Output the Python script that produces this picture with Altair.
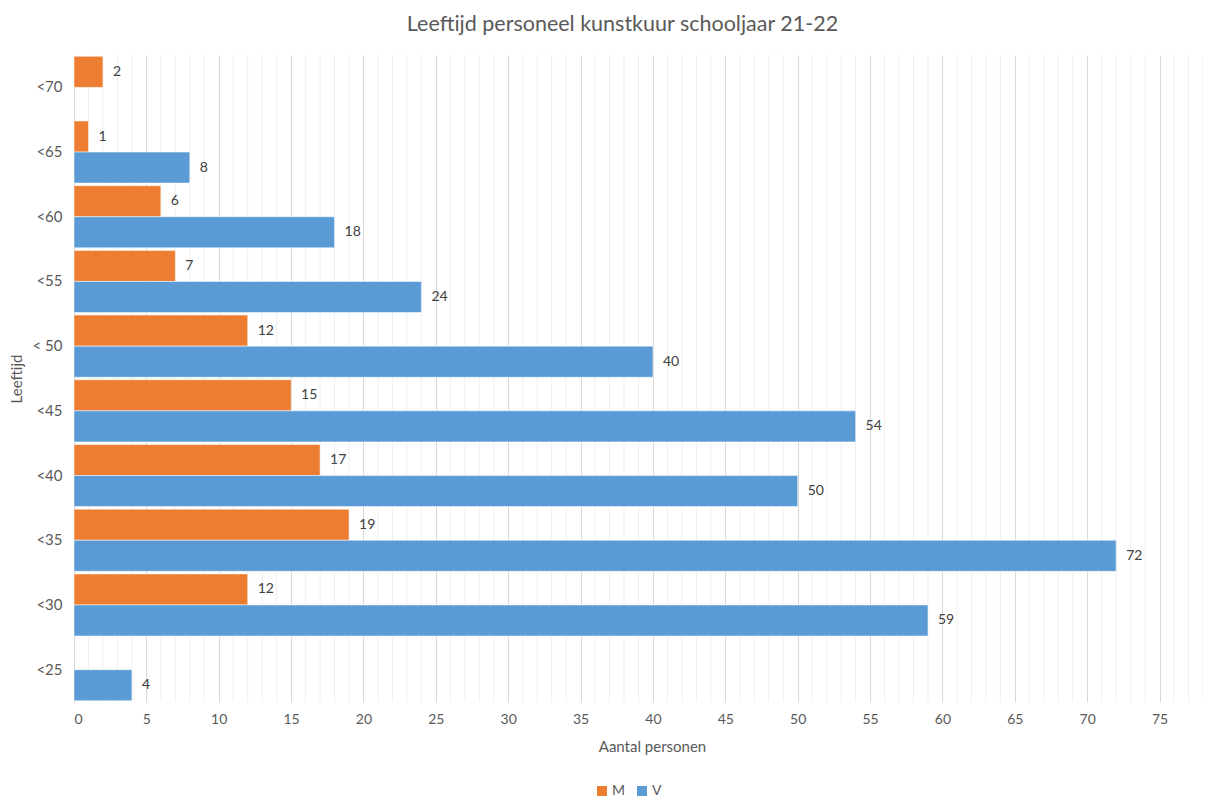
import altair as alt
import pandas as pd

categories = ["<70", "<65", "<60", "<55", "< 50", "<45", "<40", "<35", "<30", "<25"]
m_cats = ["<70", "<65", "<60", "<55", "< 50", "<45", "<40", "<35", "<30"]
m_vals = [2, 1, 6, 7, 12, 15, 17, 19, 12]
v_cats = ["<65", "<60", "<55", "< 50", "<45", "<40", "<35", "<30", "<25"]
v_vals = [8, 18, 24, 40, 54, 50, 72, 59, 4]
series = ["M", "V"]
colors = ["#ED7D31", "#5B9BD5"]
major_ticks = list(range(0, 80, 5))
minor_ticks = [v for v in range(0, 79) if v % 5 != 0]

rows = [{"cat": c, "serie": "M", "val": v} for c, v in zip(m_cats, m_vals)]
rows += [{"cat": c, "serie": "V", "val": v} for c, v in zip(v_cats, v_vals)]
df = pd.DataFrame(rows)
minor_df = pd.DataFrame({"tick": minor_ticks})

FONT = "Lato"
TXT = "#595959"

xscale = alt.Scale(domain=[0, 78], nice=False)
xaxis = alt.Axis(values=major_ticks, title="Aantal personen",
                 domain=False, ticks=False, labelPadding=10,
                 labelOverlap=False,
                 labelFontSize=14, labelColor=TXT, labelFont=FONT,
                 titleFont=FONT, titleFontSize=15, titleColor=TXT,
                 titleFontWeight="normal", titlePadding=13,
                 titleX=578,
                 gridColor="#d9d9d9", gridWidth=1)

minor = alt.Chart(minor_df).mark_rule(color="#efefef", strokeWidth=1).encode(
    x=alt.X("tick:Q", scale=xscale, axis=xaxis)
)

base = alt.Chart(df).encode(
    y=alt.Y("cat:N", sort=categories,
            scale=alt.Scale(paddingInner=0.04, paddingOuter=0.02),
            axis=alt.Axis(title="Leeftijd", domain=False, ticks=False,
                          labelPadding=12, labelFontSize=15, labelColor=TXT,
                          labelFont=FONT, titleFont=FONT, titleFontSize=15,
                          titleColor=TXT, titleFontWeight="normal",
                          titlePadding=8)),
    yOffset=alt.YOffset("serie:N", sort=series,
                        scale=alt.Scale(domain=series, paddingInner=0, paddingOuter=0)),
)

bars = base.mark_bar(stroke="white", strokeWidth=0.5).encode(
    x=alt.X("val:Q", scale=xscale, axis=xaxis),
    color=alt.Color("serie:N",
                    scale=alt.Scale(domain=series, range=colors),
                    legend=alt.Legend(title=None, orient="none", direction="horizontal",
                                      legendX=521, legendY=729, symbolType="square",
                                      symbolSize=100, labelFontSize=14,
                                      labelColor=TXT, labelFont=FONT, padding=0,
                                      columnPadding=10, labelOffset=3,
                                      symbolStrokeWidth=0)),
)

labels = base.mark_text(align="left", baseline="middle", dx=10, fontSize=14,
                        color="#404040", font=FONT).encode(
    x=alt.X("val:Q"),
    text=alt.Text("val:Q"),
)

chart = (minor + bars + labels).properties(
    width=1129,
    height=647,
    autosize=alt.AutoSizeParams(type="none"),
    padding={"left": 66, "top": 47, "right": 0, "bottom": 95},
    title=alt.Title("Leeftijd personeel kunstkuur schooljaar 21-22",
                    font=FONT, fontSize=21.5, color=TXT, fontWeight="normal",
                    anchor="middle", dx=-16, offset=19),
).configure_view(stroke=None)

chart.save("out.html", embed_options={"renderer": "svg", "actions": False})
